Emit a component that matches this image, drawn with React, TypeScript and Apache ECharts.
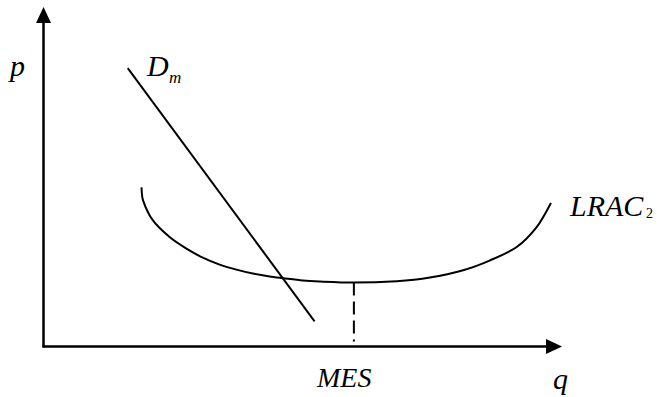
import React, { useEffect, useRef } from "react";
import * as echarts from "echarts";

// Long-run average cost curve (q, p) in abstract units (0..100)
const lracQ = [19.2, 19.5, 21.4, 24.7, 28.0, 31.2, 34.5, 37.8, 41.0, 44.3, 46.9, 50.8, 54.1, 60.6, 69.2, 75.7, 82.2, 87.5, 92.7, 96.6, 99.4];
const lracP = [48.0, 44.1, 38.1, 33.0, 29.5, 26.8, 24.7, 23.2, 22.0, 21.1, 20.6, 19.9, 19.6, 19.3, 19.7, 20.8, 23.0, 26.0, 30.0, 36.0, 43.3];
// Market demand line
const demandQ = [16.5, 53.1];
const demandP = [84.0, 7.6];
// Minimum efficient scale
const mesQ = [60.8, 60.8];
const mesP = [19.3, 1.5];

const labels = { p: "p", q: "q", d: "D", dSub: "m", lrac: "LRAC", lracSub: "2", mes: "MES" };

const FONT = "Liberation Serif";

export default function App() {
  const ref = useRef<HTMLDivElement>(null);
  useEffect(() => {
    if (!ref.current) return;
    const chart = echarts.init(ref.current, null, { renderer: "svg" });
    const zip = (a: number[], b: number[]) => a.map((v, i) => [v, b[i]]);
    const txt = (text: string, x: number, y: number, size: number, italic = true) => ({
      type: "text",
      x,
      y,
      style: {
        text,
        fill: "#000",
        fontFamily: FONT,
        fontSize: size,
        fontStyle: italic ? "italic" : "normal",
        align: "left",
        verticalAlign: "middle",
      },
    });
    chart.setOption({
      animation: false,
      grid: { left: 43.5, right: 103, top: 15, bottom: 50.5, containLabel: false },
      xAxis: {
        type: "value",
        min: 0,
        max: 100,
        axisLine: {
          show: true,
          onZero: false,
          symbol: ["none", "triangle"],
          symbolSize: [15, 16],
          lineStyle: { color: "#000", width: 2.5 },
        },
        axisTick: { show: false },
        axisLabel: { show: false },
        splitLine: { show: false },
      },
      yAxis: {
        type: "value",
        min: 0,
        max: 100,
        axisLine: {
          show: true,
          onZero: false,
          symbol: ["none", "triangle"],
          symbolSize: [15, 16],
          lineStyle: { color: "#000", width: 2.5 },
        },
        axisTick: { show: false },
        axisLabel: { show: false },
        splitLine: { show: false },
      },
      series: [
        {
          type: "line",
          data: zip(lracQ, lracP),
          smooth: 0.3,
          showSymbol: false,
          lineStyle: { color: "#000", width: 2 },
        },
        {
          type: "line",
          data: zip(demandQ, demandP),
          showSymbol: false,
          lineStyle: { color: "#000", width: 2 },
        },
        {
          type: "line",
          data: zip(mesQ, mesP),
          showSymbol: false,
          lineStyle: { color: "#000", width: 2, type: [13, 6] },
        },
      ],
      graphic: [
        txt(labels.p, 10, 65.5, 30),
        txt(labels.d, 147, 65, 30),
        txt(labels.dSub, 169, 77.3, 17),
        txt(labels.lrac, 570, 205, 30),
        txt(labels.lracSub, 646, 213.3, 14, false),
        txt(labels.mes, 317, 377.2, 28),
        txt(labels.q, 553, 378.4, 30),
      ],
    });
    return () => chart.dispose();
  }, []);
  return (
    <div
      ref={ref}
      style={{ position: "fixed", left: 0, top: 0, width: 657, height: 397, background: "#fff" }}
    />
  );
}
